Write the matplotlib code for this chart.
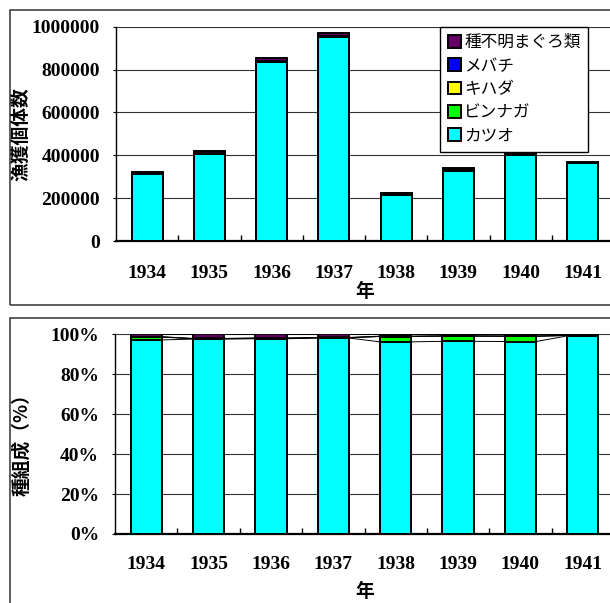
import matplotlib
matplotlib.use("Agg")
import matplotlib.pyplot as plt
import numpy as np
from matplotlib.patches import Rectangle
from matplotlib.ticker import FuncFormatter, MultipleLocator, FixedLocator

years = ["1934", "1935", "1936", "1937", "1938", "1939", "1940", "1941"]

# catch counts by species (individuals)
katsuo = [311000, 408000, 836000, 952000, 216500, 328000, 400000, 365000]
binnaga = [4500, 800, 1700, 1000, 6000, 8800, 10800, 700]
kihada = [300, 200, 400, 300, 200, 300, 400, 200]
mebachi = [300, 400, 1000, 1500, 200, 300, 300, 200]
fumei = [3900, 8600, 15900, 15200, 2100, 2600, 3500, 1900]

species = ["カツオ", "ビンナガ", "キハダ", "メバチ", "種不明まぐろ類"]
colors = ["#00FFFF", "#00FF00", "#FFFF00", "#0000FF", "#660066"]

counts = np.array([katsuo, binnaga, kihada, mebachi, fumei], dtype=float)
shares = counts / counts.sum(axis=0)

JP = ["Noto Sans CJK JP", "DejaVu Sans"]
SERIF = "Liberation Serif"

fig = plt.figure(figsize=(6.1, 6.03), dpi=100)

# chart borders
fig.patches.append(Rectangle((9.5 / 610, 1 - 305 / 603), 1.2, 295 / 603,
                             transform=fig.transFigure, fill=False,
                             edgecolor="#333333", lw=1.1))
fig.patches.append(Rectangle((9.5 / 610, -0.2), 1.2, 0.2 + 1 - 318 / 603,
                             transform=fig.transFigure, fill=False,
                             edgecolor="#333333", lw=1.1))

ax1 = fig.add_axes([116 / 610, 1 - 241 / 603, 498 / 610, 214.3 / 603])
ax2 = fig.add_axes([115 / 610, 1 - 534 / 603, 499 / 610, 199.7 / 603])

x = np.arange(len(years))
w = 0.5


def style_axis(ax):
    ax.set_xlim(-0.5, len(years) - 0.5)
    ax.set_xticks(x)
    ax.set_xticklabels(years)
    ax.xaxis.set_minor_locator(FixedLocator(np.arange(0.5, len(years) - 0.5, 1)))
    ax.tick_params(axis="x", which="major", length=0)
    ax.tick_params(axis="x", which="minor", direction="in", length=4, width=1)
    ax.tick_params(axis="y", which="major", direction="out", length=2.5, width=0.8, pad=9)
    for lab in ax.get_xticklabels() + ax.get_yticklabels():
        lab.set_fontfamily(SERIF)
        lab.set_fontweight("bold")
        lab.set_fontsize(14)
    ax.grid(axis="y", color="#333333", lw=0.8)
    ax.set_axisbelow(True)
    ax.spines["top"].set_visible(False)
    ax.spines["right"].set_visible(False)
    ax.spines["left"].set_linewidth(1.0)
    ax.spines["bottom"].set_linewidth(1.6)


# absolute counts
bottom = np.zeros(len(years))
handles = []
for vals, name, c in zip(counts, species, colors):
    b = ax1.bar(x, vals, w, bottom=bottom, color=c, edgecolor="black",
                lw=1.4, label=name, zorder=3)
    handles.append(b)
    bottom += vals
ax1.set_ylim(0, 1000000)
ax1.yaxis.set_major_locator(MultipleLocator(200000))
ax1.yaxis.set_major_formatter(FuncFormatter(lambda v, p: f"{int(v)}"))
style_axis(ax1)
ax1.tick_params(axis="x", which="major", pad=17)
ax1.set_xlabel("年", family=JP, fontweight="bold", fontsize=13.5, labelpad=0)
ax1.set_ylabel("漁獲個体数", family=JP, fontweight="bold", fontsize=13.5)
ax1.yaxis.set_label_coords(-0.171, 0.5)

leg = ax1.legend(handles[::-1], species[::-1], loc="upper left",
                 bbox_to_anchor=(0.651, 1.0), borderaxespad=0,
                 prop={"family": JP, "size": 12}, frameon=True, fancybox=False,
                 edgecolor="black", framealpha=1, handlelength=0.8,
                 handleheight=0.8, handletextpad=0.2, labelspacing=0.38,
                 borderpad=0.45)
leg.get_frame().set_linewidth(1.0)
leg.set_zorder(5)

# composition (%)
cum = np.zeros(len(years))
for vals, name, c in zip(shares, species, colors):
    ax2.bar(x, vals, w, bottom=cum, color=c, edgecolor="black", lw=1.4, zorder=3)
    cum = cum + vals
    # series lines between neighbouring bars
    for i in range(len(years) - 1):
        ax2.plot([x[i] + w / 2, x[i + 1] - w / 2], [cum[i], cum[i + 1]],
                 color="black", lw=0.7, zorder=2)
ax2.set_ylim(0, 1)
ax2.yaxis.set_major_locator(MultipleLocator(0.2))
ax2.yaxis.set_major_formatter(FuncFormatter(lambda v, p: f"{v * 100:.0f}%"))
style_axis(ax2)
ax2.tick_params(axis="x", which="major", pad=16)
ax2.set_xlabel("年", family=JP, fontweight="bold", fontsize=13.5, labelpad=6)
ax2.set_ylabel("種組成（%）", family=JP, fontweight="bold", fontsize=13.5)
ax2.yaxis.set_label_coords(-0.168, 0.47)

fig.savefig("out.png", dpi=100)
